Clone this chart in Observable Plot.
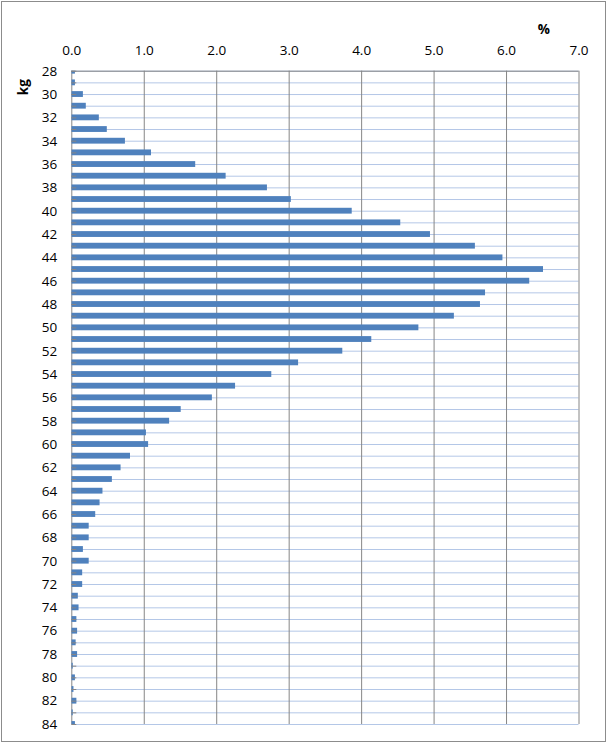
<!DOCTYPE html>
<html>
<head>
<meta charset="utf-8">
<script src="https://cdn.jsdelivr.net/npm/d3@7"></script>
<script src="https://cdn.jsdelivr.net/npm/@observablehq/plot@0.6"></script>
<style>
  html, body { margin: 0; padding: 0; background: #fff; overflow: hidden; }
  #chart svg { display: block; outline: 1px solid #8c8c8c; outline-offset: -2px; }
</style>
</head>
<body>
<div id="chart"></div>
<script>
const kg = [28,29,30,31,32,33,34,35,36,37,38,39,40,41,42,43,44,45,46,47,48,49,50,51,52,53,54,55,56,57,58,59,60,61,62,63,64,65,66,67,68,69,70,71,72,73,74,75,76,77,78,79,80,81,82,83,84];
const percent = [0.05,0.05,0.16,0.20,0.38,0.49,0.74,1.10,1.71,2.13,2.70,3.03,3.87,4.54,4.95,5.57,5.95,6.51,6.32,5.71,5.64,5.28,4.79,4.14,3.74,3.13,2.76,2.26,1.94,1.51,1.35,1.03,1.06,0.81,0.68,0.56,0.43,0.39,0.33,0.24,0.24,0.16,0.24,0.15,0.15,0.09,0.10,0.07,0.08,0.06,0.08,0.02,0.05,0.03,0.07,0.02,0.05];
const xTicks = [0,1,2,3,4,5,6,7];
const yLabelTicks = [28,30,32,34,36,38,40,42,44,46,48,50,52,54,56,58,60,62,64,66,68,70,72,74,76,78,80,82,84];

const data = kg.map((k, i) => ({kg: k, value: percent[i]}));

const axisGray = "#868686";
const gridBlue = "#b4c7e7";
const barBlue = "#4f81bd";

const chart = Plot.plot({
  width: 607,
  height: 743,
  marginTop: 70.7,
  marginBottom: 19,
  marginLeft: 71.3,
  marginRight: 28.5,
  style: {fontFamily: "'Open Sans', sans-serif", fontSize: "13.5px", color: "#000", background: "#fff"},
  x: {domain: [0, 7]},
  y: {domain: [28, 84], reverse: true},
  marks: [
    Plot.ruleY(kg, {x1: 0, x2: 7, stroke: gridBlue, strokeWidth: 1}),
    Plot.ruleX(xTicks, {stroke: axisGray, strokeWidth: 1}),
    Plot.rectX(data, {
      x1: 0, x2: "value",
      y1: d => d.kg - 0.25, y2: d => d.kg + 0.25,
      fill: barBlue, clip: true
    }),
    Plot.ruleY([28], {x1: 0, x2: 7, stroke: axisGray, strokeWidth: 1}),
    Plot.axisY({ticks: kg, tickSize: 5, dx: 5, tickFormat: () => "", stroke: axisGray}),
    Plot.axisY({ticks: yLabelTicks, tickSize: 0, tickPadding: 14.6, fontSize: 13.5, tickFormat: d => String(d), label: null}),
    Plot.axisX({anchor: "top", ticks: xTicks, tickSize: 0, tickPadding: 16, fontSize: 13.5, tickFormat: d => d.toFixed(1), label: null}),
    Plot.text(["kg"], {frameAnchor: "top-left", dx: -53, dy: 24, rotate: -90, fontWeight: "bold", fontSize: 13.5, text: d => d}),
    Plot.text(["%"], {frameAnchor: "top-right", dx: -29, dy: -47, fontWeight: "bold", fontSize: 13.5, text: d => d})
  ]
});
document.getElementById("chart").appendChild(chart);
</script>
</body>
</html>
